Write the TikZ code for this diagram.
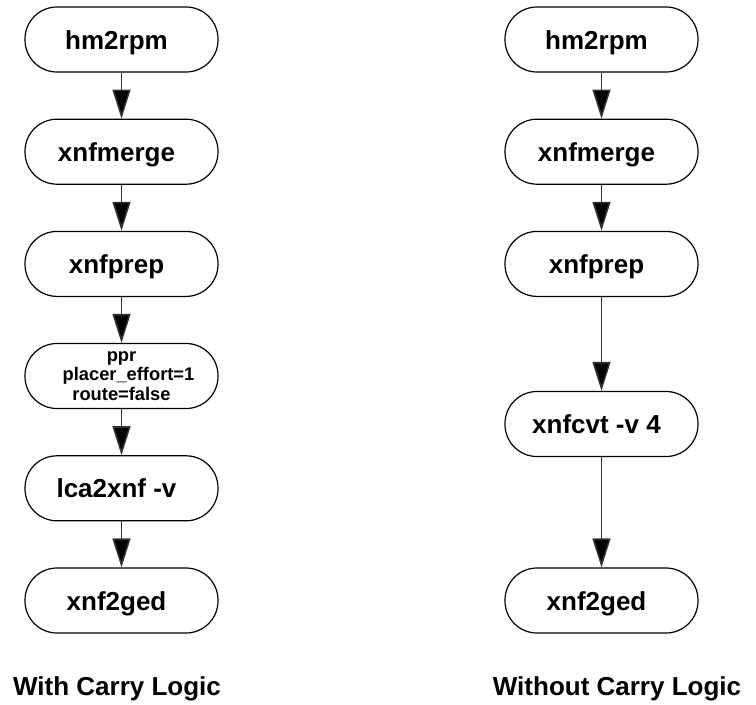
\documentclass[tikz,border=0pt]{standalone}
\usepackage{fontspec}
\setmainfont{Liberation Sans}
\usetikzlibrary{arrows.meta}
\begin{document}
\begin{tikzpicture}[x=1pt,y=-1pt,
  proc/.style={draw=black, line width=1.2pt, rounded corners=32pt, minimum width=193pt, minimum height=65pt, inner sep=0pt, font=\fontsize{26}{28}\selectfont\bfseries},
  single/.style={proc, text height=19pt, text depth=0pt, execute at end node={\hspace*{10pt}}},
  small/.style={proc, font=\fontsize{18.3}{19.5}\selectfont\bfseries, align=center},
  flow/.style={draw=black!80, line width=1.6pt, -{Triangle[length=29pt,width=18pt,fill=black]}},
  captext/.style={font=\fontsize{26}{28}\selectfont\bfseries, anchor=base}]
\useasboundingbox (0,0) rectangle (756,705);
% left column
\node[single] (l1) at (121.5,39.5) {hm2rpm};
\node[single] (l2) at (121.5,151.7) {xnfmerge};
\node[single] (l3) at (121.5,263.9) {xnfprep};
\node[small] (l4) at (121.5,376) {ppr\\\hspace*{14pt}placer\_effort=1\\route=false};
\node[single] (l5) at (121.5,488.3) {lca2xnf -v};
\node[single] (l6) at (121.5,600.5) {xnf2ged};
% right column
\node[single] (r1) at (601.5,39.5) {hm2rpm};
\node[single] (r2) at (601.5,151.7) {xnfmerge};
\node[single] (r3) at (601.5,263.9) {xnfprep};
\node[single] (r4) at (601.5,424) {xnfcvt -v 4};
\node[single] (r5) at (601.5,600.5) {xnf2ged};
% connectors
\draw[flow] (l1) -- (l2);
\draw[flow] (l2) -- (l3);
\draw[flow] (l3) -- (l4);
\draw[flow] (l4) -- (l5);
\draw[flow] (l5) -- (l6);
\draw[flow] (r1) -- (r2);
\draw[flow] (r2) -- (r3);
\draw[flow] (r3) -- (r4);
\draw[flow] (r4) -- (r5);
% captions
\node[captext] (c1) at (117,695) {With Carry Logic};
\node[captext] (c2) at (617,695) {Without Carry Logic};
\end{tikzpicture}
\end{document}
